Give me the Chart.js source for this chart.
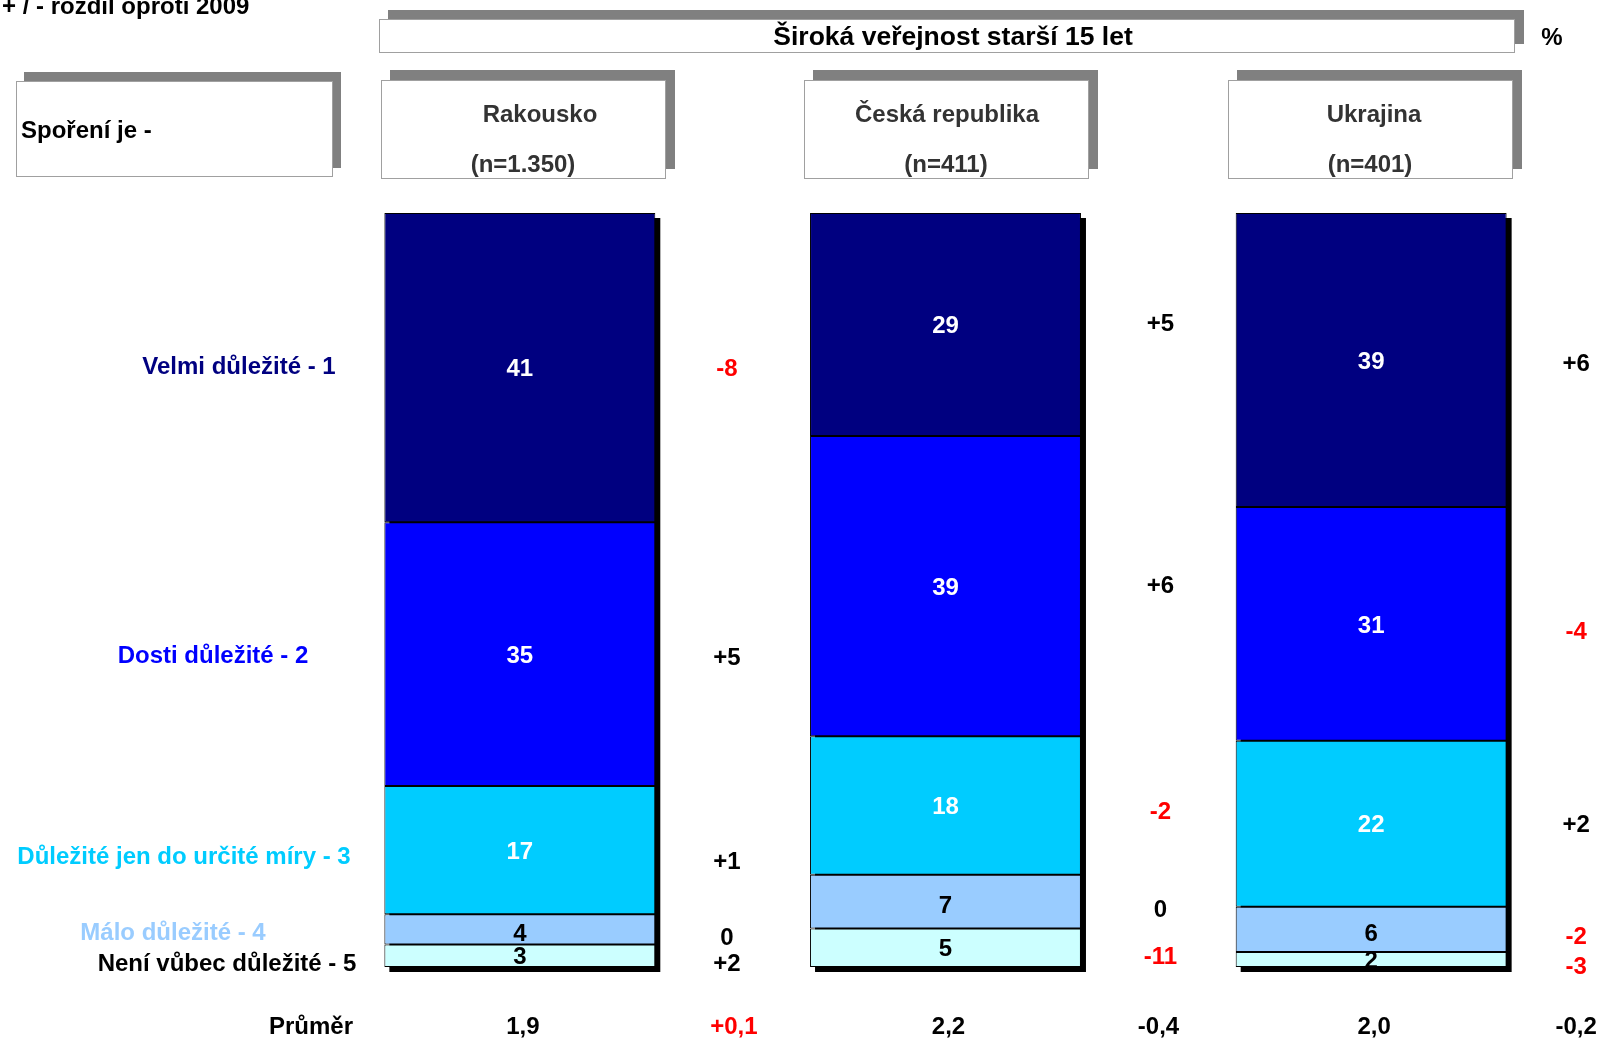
<!DOCTYPE html>
<html lang="cs">
<head>
<meta charset="utf-8">
<title>Spoření je -</title>
<script src="https://cdn.jsdelivr.net/npm/chart.js@4.4.0/dist/chart.umd.min.js"></script>
<style>
  html, body { margin: 0; padding: 0; background: #fff; }
  #wrap { width: 1603px; height: 1039px; }
</style>
</head>
<body>
<div id="wrap"><canvas id="chart" width="1603" height="1039"></canvas></div>
<script>
// --- data ---
const countries = ['Rakousko', 'Česká republika', 'Ukrajina'];
const sampleSizes = ['(n=1.350)', '(n=411)', '(n=401)'];
const answers = ['Velmi důležité - 1', 'Dosti důležité - 2', 'Důležité jen do určité míry - 3', 'Málo důležité - 4', 'Není vůbec důležité - 5'];

const velmi = [41, 29, 39];
const dosti = [35, 39, 31];
const castecne = [17, 18, 22];
const malo = [4, 7, 6];
const vubec = [3, 5, 2];

// change against 2009
const diffVelmi = [-8, 5, 6];
const diffDosti = [5, 6, -4];
const diffCastecne = [1, -2, 2];
const diffMalo = [0, 0, -2];
const diffVubec = [2, -11, -3];

const prumer = [1.9, 2.2, 2.0];
const diffPrumer = [0.1, -0.4, -0.2];

const title = 'Široká veřejnost starší 15 let';
const diffNote = '+ / - rozdíl oproti 2009';
const questionLabel = 'Spoření je -';
const meanLabel = 'Průměr';

// --- styling ---
const FONT = 'bold 24px "Liberation Sans", Arial, sans-serif';
const fills = ['#000080', '#0000FF', '#00CCFF', '#99CCFF', '#CCFFFF'];
const labelColors = ['#000080', '#0000FF', '#00CCFF', '#99CCFF', '#000000'];
const valueColors = ['#FFFFFF', '#FFFFFF', '#FFFFFF', '#000000', '#000000'];

const series = [velmi, dosti, castecne, malo, vubec];
const diffs = [diffVelmi, diffDosti, diffCastecne, diffMalo, diffVubec];
const totals = countries.map((_, i) => series.reduce((s, arr) => s + arr[i], 0));

// layout tweaks
const TEXT_DY = 2;
const answerLabelX = [239, 213, 184, 173, 227];
const answerLabelDy = [-2, 0, 5, 2, 7];
const valueDy = [0, 0, 0, 3, 0];
// per country, per answer row
const diffDy = [[0, 2, 10, 7, 7], [-2, -2, 5, 7, 8], [2, 6, 0, 6, 6]];
const diffDx = [207, 215, 205];
const meanDiffDx = [214, 213, 205];
const boxLeft = [381, 804, 1228];
const nameDx = [17, 1, 4];

function fmtDiff(v, digits) {
    if (v === 0) return '0';
    const s = Math.abs(v).toFixed(digits).replace('.', ',');
    return (v > 0 ? '+' : '-') + s;
}

function shadowBox(ctx, x, y, w, h, dx, dy) {
    ctx.fillStyle = '#808080';
    ctx.fillRect(x + dx, y + dy, w, h);
    ctx.fillStyle = '#FFFFFF';
    ctx.fillRect(x, y, w, h);
    ctx.strokeStyle = '#A0A0A0';
    ctx.lineWidth = 1;
    ctx.strokeRect(x + 0.5, y + 0.5, w - 1, h - 1);
}

const barShadow = {
    id: 'barShadow',
    beforeDatasetsDraw(chart) {
        const ctx = chart.ctx;
        ctx.save();
        ctx.fillStyle = '#000000';
        countries.forEach((_, i) => {
            let top = Infinity, bottom = -Infinity, left = 0, width = 0;
            chart.data.datasets.forEach((_, d) => {
                const el = chart.getDatasetMeta(d).data[i];
                const p = el.getProps(['x', 'y', 'base', 'width'], true);
                top = Math.min(top, p.y, p.base);
                bottom = Math.max(bottom, p.y, p.base);
                left = p.x - p.width / 2;
                width = p.width;
            });
            ctx.fillRect(left + 5, top + 5, width, bottom - top);
        });
        ctx.restore();
    }
};

const annotations = {
    id: 'annotations',
    afterDraw(chart) {
        const ctx = chart.ctx;
        const xs = chart.scales.x;
        ctx.save();
        ctx.font = FONT;

        // note top-left
        ctx.fillStyle = '#000';
        ctx.textAlign = 'left';
        ctx.textBaseline = 'alphabetic';
        ctx.fillText(diffNote, 2, 14);

        // title box
        shadowBox(ctx, 379, 19, 1136, 34, 9, -9);
        ctx.fillStyle = '#000';
        ctx.textAlign = 'center';
        ctx.textBaseline = 'middle';
        ctx.font = 'bold 26.5px "Liberation Sans", Arial, sans-serif';
        ctx.fillText(title, 953, 38);
        ctx.font = FONT;
        ctx.fillText('%', 1552, 38);

        // question box
        shadowBox(ctx, 16, 81, 317, 96, 8, -9);
        ctx.textAlign = 'left';
        ctx.fillStyle = '#000';
        ctx.fillText(questionLabel, 21, 131);

        // country boxes
        countries.forEach((name, i) => {
            shadowBox(ctx, boxLeft[i], 80, 285, 99, 9, -10);
            const cx = boxLeft[i] + 142;
            ctx.fillStyle = '#333333';
            ctx.textAlign = 'center';
            ctx.fillText(name, cx + nameDx[i], 115);
            ctx.fillText(sampleSizes[i], cx, 165);
        });

        // values inside bars and changes next to them
        series.forEach((arr, k) => {
            const meta = chart.getDatasetMeta(k);
            arr.forEach((v, i) => {
                const p = meta.data[i].getProps(['x', 'y', 'base'], true);
                const cy = (p.y + p.base) / 2 + TEXT_DY;
                ctx.textAlign = 'center';
                ctx.fillStyle = valueColors[k];
                ctx.fillText(String(v), p.x, cy + valueDy[k]);
                const dv = diffs[k][i];
                ctx.fillStyle = dv < 0 ? '#FF0000' : '#000000';
                ctx.fillText(fmtDiff(dv, 0), p.x + diffDx[i], cy + diffDy[i][k]);
            });
            // answer labels on the left, aligned to the first bar
            const p0 = meta.data[0].getProps(['y', 'base'], true);
            ctx.fillStyle = labelColors[k];
            ctx.fillText(answers[k], answerLabelX[k], (p0.y + p0.base) / 2 + answerLabelDy[k] + TEXT_DY);
        });

        // mean row
        const yMean = 1025 + TEXT_DY;
        ctx.fillStyle = '#000';
        ctx.textAlign = 'right';
        ctx.fillText(meanLabel, 353, yMean);
        ctx.textAlign = 'center';
        prumer.forEach((m, i) => {
            const cx = xs.getPixelForValue(i);
            ctx.fillStyle = '#000';
            ctx.fillText(m.toFixed(1).replace('.', ','), cx + 3, yMean);
            // lower mean = more important, so a rise is shown in red
            ctx.fillStyle = diffPrumer[i] > 0 ? '#FF0000' : '#000000';
            ctx.fillText(fmtDiff(diffPrumer[i], 1), cx + meanDiffDx[i], yMean);
        });

        ctx.restore();
    }
};

new Chart(document.getElementById('chart').getContext('2d'), {
    type: 'bar',
    data: {
        labels: countries,
        datasets: series.map((arr, k) => ({
            label: answers[k],
            data: arr.map((v, i) => v / totals[i] * 100),
            backgroundColor: fills[k],
            borderColor: '#000000',
            borderWidth: 1,
            borderSkipped: false,
            barPercentage: 0.6365,
            categoryPercentage: 1
        }))
    },
    options: {
        responsive: false,
        animation: false,
        layout: { padding: { left: 307, right: 19, top: 213, bottom: 72 } },
        plugins: { legend: { display: false }, tooltip: { enabled: false } },
        scales: {
            x: { stacked: true, display: false },
            y: { stacked: true, display: false, min: 0, max: 100, reverse: true }
        }
    },
    plugins: [barShadow, annotations]
});
</script>
</body>
</html>
